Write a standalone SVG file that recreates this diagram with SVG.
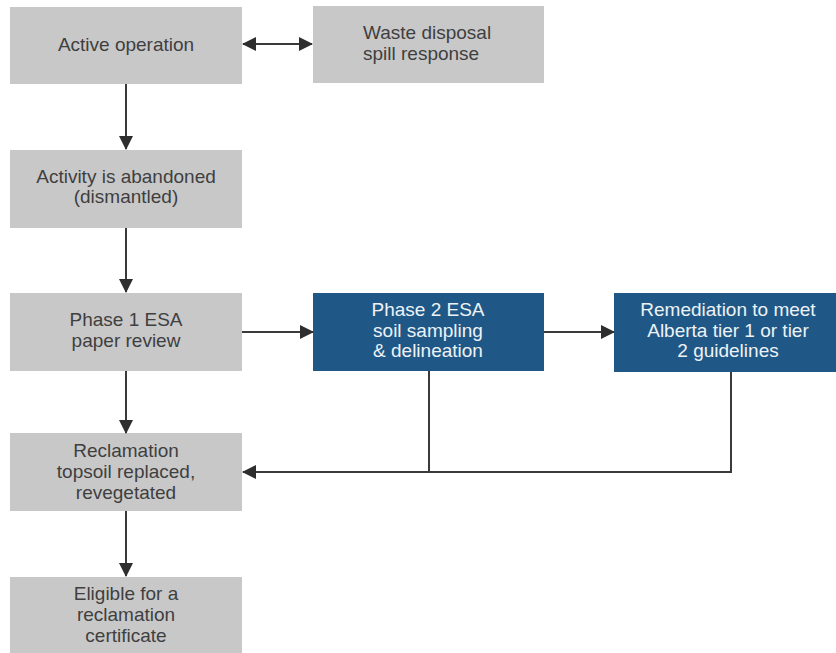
<svg xmlns="http://www.w3.org/2000/svg" width="836" height="653" viewBox="0 0 836 653">
<style>
.g{fill:#c8c8c9}
.b{fill:#1f5886}
.t{font-family:"Liberation Sans",Arial,sans-serif;font-size:19px;fill:#3f3f3f;text-anchor:middle}
.w{fill:#eef2f6}
.c{stroke:#3a3a3a;stroke-width:2;fill:none}
</style>
<defs>
<marker id="ah" markerWidth="14" markerHeight="14" refX="13" refY="7" orient="auto-start-reverse" markerUnits="userSpaceOnUse">
<path d="M0,0 L14,7 L0,14 Z" fill="#2e2e2e"/>
</marker>
</defs>
<rect width="836" height="653" fill="#fff"/>
<g id="active">
<rect class="g" x="10" y="7" width="232" height="77"/>
<text class="t" x="126" y="51">Active operation</text>
</g>
<g id="waste">
<rect class="g" x="313" y="6" width="231" height="77"/>
<text class="t" x="363" y="39" style="text-anchor:start">Waste disposal</text>
<text class="t" x="363" y="60" style="text-anchor:start">spill response</text>
</g>
<g id="abandoned">
<rect class="g" x="10" y="150" width="232" height="78"/>
<text class="t" x="126" y="183">Activity is abandoned</text>
<text class="t" x="126" y="203">(dismantled)</text>
</g>
<g id="phase1">
<rect class="g" x="10" y="293" width="232" height="78"/>
<text class="t" x="126" y="326">Phase 1 ESA</text>
<text class="t" x="126" y="347">paper review</text>
</g>
<g id="phase2">
<rect class="b" x="313" y="293" width="231" height="78"/>
<text class="t w" x="428" y="316">Phase 2 ESA</text>
<text class="t w" x="428" y="337">soil sampling</text>
<text class="t w" x="428" y="357">&amp; delineation</text>
</g>
<g id="remediation">
<rect class="b" x="614" y="293" width="228" height="79"/>
<text class="t w" x="728" y="316">Remediation to meet</text>
<text class="t w" x="728" y="337">Alberta tier 1 or tier</text>
<text class="t w" x="728" y="357">2 guidelines</text>
</g>
<g id="reclamation">
<rect class="g" x="10" y="433" width="232" height="78"/>
<text class="t" x="126" y="457">Reclamation</text>
<text class="t" x="126" y="478">topsoil replaced,</text>
<text class="t" x="126" y="499">revegetated</text>
</g>
<g id="eligible">
<rect class="g" x="10" y="577" width="232" height="78"/>
<text class="t" x="126" y="600">Eligible for a</text>
<text class="t" x="126" y="621">reclamation</text>
<text class="t" x="126" y="642">certificate</text>
</g>
<g id="connectors">
<line class="c" x1="243" y1="44" x2="312" y2="44" marker-start="url(#ah)" marker-end="url(#ah)"/>
<line class="c" x1="126" y1="84" x2="126" y2="149" marker-end="url(#ah)"/>
<line class="c" x1="126" y1="228" x2="126" y2="292" marker-end="url(#ah)"/>
<line class="c" x1="242" y1="332" x2="313" y2="332" marker-end="url(#ah)"/>
<line class="c" x1="544" y1="332" x2="614" y2="332" marker-end="url(#ah)"/>
<line class="c" x1="126" y1="371" x2="126" y2="433" marker-end="url(#ah)"/>
<line class="c" x1="126" y1="511" x2="126" y2="576" marker-end="url(#ah)"/>
<line class="c" x1="429" y1="371" x2="429" y2="472"/>
<polyline class="c" points="731,372 731,472 243,472" marker-end="url(#ah)"/>
</g>
</svg>
